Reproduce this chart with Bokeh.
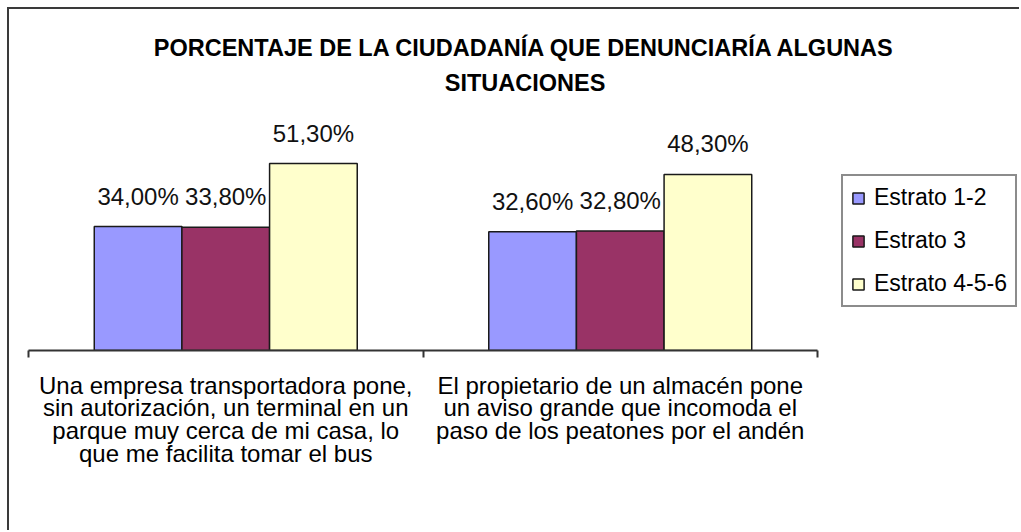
from bokeh.plotting import figure
from bokeh.models import ColumnDataSource, Range1d, FixedTicker, LabelSet, Title
from bokeh.transform import dodge
from bokeh.core.properties import value
from bokeh.embed import file_html
from bokeh.resources import INLINE

# ---------------- data ----------------
title_lines = ["PORCENTAJE DE LA CIUDADANÍA QUE DENUNCIARÍA ALGUNAS", "SITUACIONES"]
categories = [
    "Una empresa transportadora pone,\nsin autorización, un terminal en un\nparque muy cerca de mi casa, lo\nque me facilita tomar el bus",
    "El propietario de un almacén pone\nun aviso grande que incomoda el\npaso de los peatones por el andén",
]
series_names = ["Estrato 1-2", "Estrato 3", "Estrato 4-5-6"]
estrato_1_2 = [34.0, 32.6]
estrato_3 = [33.8, 32.8]
estrato_4_5_6 = [51.3, 48.3]
series_colors = ["#9999FF", "#993366", "#FFFFCC"]

FONT = "Liberation Sans"
BAR_W = 0.2222
offsets = [-BAR_W, 0.0, BAR_W]

cat_pos = [i + 0.5 for i in range(len(categories))]
source = ColumnDataSource(dict(x=cat_pos, s0=estrato_1_2, s1=estrato_3, s2=estrato_4_5_6))

p = figure(
    width=1012, height=523,
    min_border_left=19, min_border_right=0, min_border_top=91, min_border_bottom=182,
    x_range=Range1d(0, 2.5171), y_range=Range1d(0, 68.59),
    output_backend="svg", toolbar_location=None,
)
p.styles = {"margin-left": "7px", "margin-top": "7px",
            "border-left": "2px solid #3a3a3a", "border-top": "2px solid #3a3a3a"}
p.outline_line_color = None
p.xgrid.visible = False
p.ygrid.visible = False
p.yaxis.visible = False
p.background_fill_color = "white"
p.border_fill_color = "white"

# title: two centred lines, the one nearest the plot is added first
for line, stand in zip(reversed(title_lines), [10, 4]):
    p.add_layout(Title(text=line, align="center", text_font=FONT, text_font_size="23.5px",
                       text_font_style="bold", text_color="#000000", standoff=stand), "above")

all_series = [estrato_1_2, estrato_3, estrato_4_5_6]
for j, (name, col, off) in enumerate(zip(series_names, series_colors, offsets)):
    p.vbar(x=dodge("x", off, range=p.x_range), top="s%d" % j, width=BAR_W, source=source,
           fill_color=col, line_color="#1a1a1a", line_width=1.5, legend_label=name)

# data labels
lx, ly, lt = [], [], []
for j, vals in enumerate(all_series):
    for i, v in enumerate(vals):
        lx.append(cat_pos[i] + offsets[j])
        ly.append(v)
        lt.append(("%.2f" % v).replace(".", ",") + "%")
lab_src = ColumnDataSource(dict(x=lx, y=ly, t=lt))
p.add_layout(LabelSet(x="x", y="y", text="t", source=lab_src, y_offset=17,
                      text_align="center", text_baseline="bottom",
                      text_font=value(FONT), text_font_size="24px", text_color="#111111"))

# x axis
ax = p.xaxis[0]
ax.bounds = (0, len(categories))
ax.ticker = FixedTicker(ticks=cat_pos, minor_ticks=[float(i) for i in range(len(categories) + 1)])
ax.major_label_overrides = {cat_pos[i]: categories[i] for i in range(len(categories))}
ax.axis_line_color = "#333333"
ax.axis_line_width = 2
ax.major_tick_line_color = None
ax.major_tick_out = 0
ax.major_tick_in = 0
ax.minor_tick_line_color = "#333333"
ax.minor_tick_line_width = 2
ax.minor_tick_out = 7
ax.minor_tick_in = 0
ax.major_label_standoff = 14
ax.major_label_text_font = FONT
ax.major_label_text_font_size = "24px"
ax.major_label_text_color = "#000000"
ax.major_label_text_line_height = 0.85

# legend
lg = p.legend[0]
lg.location = (813, 43)
lg.glyph_width = 14
lg.glyph_height = 14
lg.label_standoff = 9
lg.padding = 8
lg.margin = 0
lg.spacing = 16
lg.label_height = 27
lg.title_standoff = 0
lg.label_text_font = FONT
lg.label_text_font_size = "23px"
lg.label_text_color = "#000000"
lg.border_line_color = "#1a1a1a"
lg.border_line_width = 2
lg.background_fill_alpha = 1.0

open("out.html", "w").write(file_html(p, INLINE))
